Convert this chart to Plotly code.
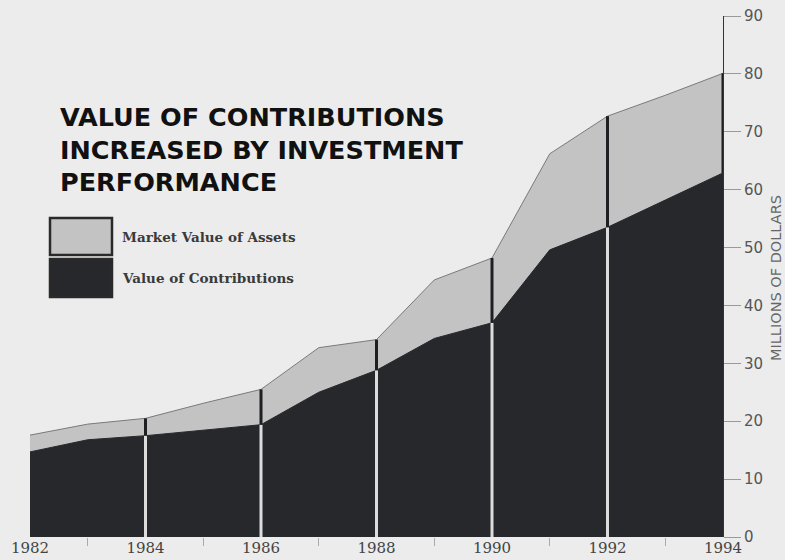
import plotly.graph_objects as go

years = list(range(1982, 1995))
contributions = [14.7, 16.8, 17.5, 18.5, 19.4, 25.0, 28.8, 34.3, 37.0, 49.6, 53.5, 58.2, 62.9]
market_value = [17.6, 19.5, 20.5, 23.1, 25.5, 32.7, 34.1, 44.4, 48.2, 66.2, 72.7, 76.3, 80.1]
tick_years = [1982, 1984, 1986, 1988, 1990, 1992, 1994]
minor_years = [1983, 1985, 1987, 1989, 1991, 1993]
sep_years = [1984, 1986, 1988, 1990, 1992, 1994]
y_ticks = [0, 10, 20, 30, 40, 50, 60, 70, 80, 90]
title_lines = ["VALUE OF CONTRIBUTIONS", "INCREASED BY INVESTMENT", "PERFORMANCE"]
legend_labels = ["Market Value of Assets", "Value of Contributions"]
y_title = "MILLIONS OF DOLLARS"

BG = "#ececec"
LIGHT = "#c3c3c3"
DARK = "#26282c"

fig = go.Figure()
fig.add_trace(go.Scatter(x=years, y=market_value, mode="lines", fill="tozeroy",
                         fillcolor=LIGHT, line=dict(color="#7a7a7a", width=1),
                         showlegend=False, hoverinfo="skip"))
fig.add_trace(go.Scatter(x=years, y=contributions, mode="lines", fill="tozeroy",
                         fillcolor=DARK, line=dict(color=DARK, width=1),
                         showlegend=False, hoverinfo="skip"))

# separators
wx, wy, dx, dy = [], [], [], []
for yr in sep_years:
    i = years.index(yr)
    if yr != 1994:
        wx += [yr, yr, None]
        wy += [0, contributions[i], None]
    dx += [yr, yr, None]
    dy += [contributions[i], market_value[i], None]
fig.add_trace(go.Scatter(x=wx, y=wy, mode="lines", line=dict(color="#dcdcdc", width=3),
                         showlegend=False, hoverinfo="skip"))
fig.add_trace(go.Scatter(x=dx, y=dy, mode="lines", line=dict(color="#1e1f22", width=3),
                         showlegend=False, hoverinfo="skip"))

fig.update_layout(
    width=785, height=560,
    margin=dict(l=30, r=62, t=16, b=23),
    paper_bgcolor=BG, plot_bgcolor=BG,
    showlegend=False,
    xaxis=dict(range=[1982, 1994], tickvals=tick_years, ticktext=[str(t) for t in tick_years],
               ticks="", showgrid=False, zeroline=False, showline=False, automargin=False,
               tickfont=dict(family="DejaVu Serif", size=15, color="#444"),
               minor=dict(tickvals=minor_years, ticks="outside", ticklen=8, tickcolor="#aaa", showgrid=False)),
    yaxis=dict(range=[0, 90], side="right", tickvals=y_ticks, ticks="outside", ticklen=17,
               tickcolor="#999", showgrid=False, zeroline=False, showline=True, automargin=False,
               linecolor="#333", linewidth=1,
               tickfont=dict(family="DejaVu Sans", size=15, color="#555")),
)

# title
for k, line in enumerate(title_lines):
    fig.add_annotation(xref="paper", yref="paper", x=(58 - 30) / 693, y=(537 - 100 - k * 32.5) / 521,
                       xanchor="left", yanchor="top", showarrow=False, text=line,
                       font=dict(family="DejaVu Sans", size=25.5, color="#111", weight="bold"))

# legend
boxes = [(218, 255, LIGHT), (259, 297, DARK)]
for (top, bot, col), lab in zip(boxes, legend_labels):
    fig.add_shape(type="rect", xref="paper", yref="paper",
                  x0=(50 - 30) / 693, x1=(112 - 30) / 693,
                  y0=(537 - bot) / 521, y1=(537 - top) / 521,
                  fillcolor=col, line=dict(color="#2a2a2a", width=2.5))
    fig.add_annotation(xref="paper", yref="paper", x=(120 - 30) / 693, y=(537 - (top + bot) / 2) / 521,
                       xanchor="left", yanchor="middle", showarrow=False, text=lab,
                       font=dict(family="DejaVu Serif", size=13.5, color="#3a3a3a", weight="bold"))

fig.add_annotation(xref="paper", yref="paper", x=(776 - 30) / 693, y=(537 - 278) / 521,
                   xanchor="center", yanchor="middle", showarrow=False, text=y_title,
                   textangle=-90, font=dict(family="DejaVu Sans", size=14.5, color="#666"))

fig.write_html("out.html", config={"displayModeBar": False},
               post_script="document.body.style.margin='0';document.body.style.background='#ececec';")
